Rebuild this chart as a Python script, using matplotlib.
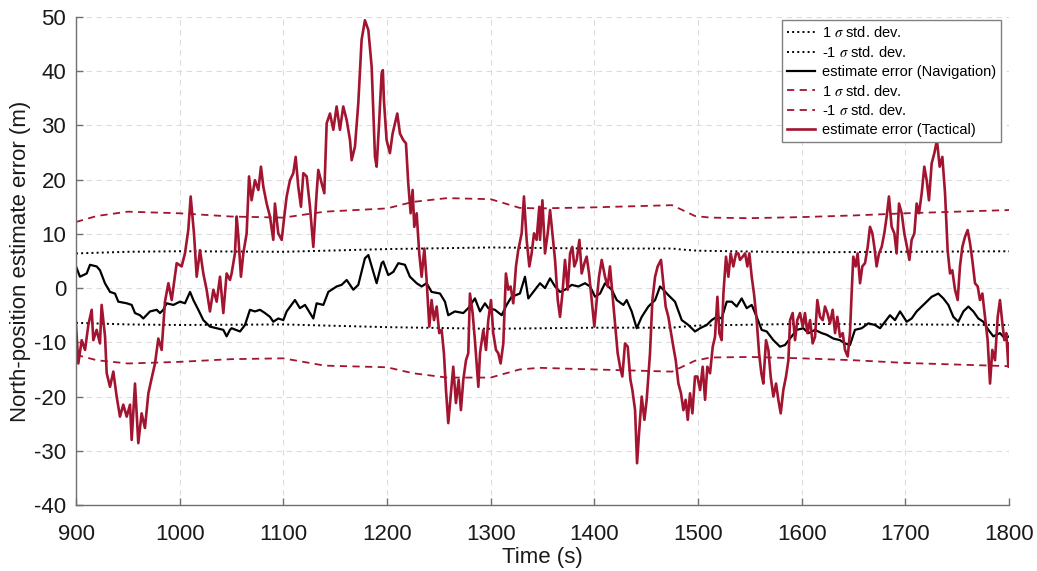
import matplotlib
matplotlib.use('Agg')
import matplotlib.pyplot as plt

plt.rcParams['font.family'] = ['Liberation Sans', 'DejaVu Sans']
plt.rcParams['mathtext.fontset'] = 'stix'
plt.rcParams['axes.unicode_minus'] = False

# navigation grade IMU: estimate error (m)
nav_t = [900, 903.8, 910.3, 913.5, 919.9, 923.1, 927.9, 932.8, 937.6, 940.8,
         948.9, 953.7, 956.9, 961.7, 964.9, 971.4, 977.8, 981.0, 984.2, 987.4,
         993.9, 1000.3, 1005.1, 1010.0, 1013.2, 1018.0, 1022.8, 1029.2, 1035.7, 1042.1,
         1045.3, 1048.5, 1050.1, 1058.2, 1063.0, 1067.8, 1072.6, 1077.5, 1082.3, 1087.1,
         1090.3, 1095.1, 1100.0, 1103.2, 1111.2, 1116.0, 1120.9, 1128.9, 1132.1, 1138.6,
         1143.4, 1151.4, 1156.2, 1161.1, 1167.5, 1172.3, 1178.7, 1182.0, 1185.2, 1190.0,
         1194.8, 1196.4, 1201.2, 1206.1, 1210.9, 1217.3, 1222.1, 1228.6, 1233.4, 1238.2,
         1243.0, 1251.1, 1255.9, 1259.1, 1265.5, 1273.6, 1278.4, 1284.8, 1289.7, 1294.5,
         1297.7, 1304.1, 1310.6, 1315.4, 1320.2, 1328.2, 1333.1, 1336.3, 1342.7, 1347.6,
         1352.4, 1357.3, 1362.1, 1366.9, 1371.7, 1378.2, 1384.6, 1391.0, 1395.9, 1400.7,
         1405.5, 1410.3, 1416.8, 1421.6, 1428.0, 1431.2, 1436.0, 1440.9, 1445.7, 1452.1,
         1458.6, 1463.4, 1466.6, 1471.4, 1477.8, 1484.3, 1490.7, 1495.5, 1497.1, 1502.0,
         1508.4, 1513.2, 1518.0, 1522.8, 1527.7, 1532.5, 1537.3, 1542.1, 1547.0, 1551.8,
         1556.6, 1561.4, 1566.3, 1572.7, 1579.1, 1583.9, 1588.8, 1595.2, 1601.6, 1606.5,
         1612.9, 1619.3, 1624.1, 1630.6, 1637.0, 1641.8, 1646.6, 1651.4, 1657.9, 1664.3,
         1670.7, 1675.6, 1680.4, 1685.2, 1690.0, 1694.9, 1701.3, 1706.1, 1710.9, 1715.8,
         1720.6, 1725.4, 1731.8, 1736.7, 1741.5, 1746.3, 1751.1, 1756.0, 1760.8, 1765.6,
         1770.4, 1775.2, 1780.1, 1784.9, 1791.3, 1796.1, 1800]
nav_err = [4.0, 2.1, 2.7, 4.3, 4.0, 3.3, 0.9, -0.7, -1.0, -2.5,
           -2.8, -3.1, -4.6, -5.0, -5.6, -4.3, -4.0, -4.6, -4.0, -2.8,
           -3.1, -2.5, -2.8, -0.7, -2.2, -4.0, -5.9, -7.1, -7.4, -7.7,
           -8.9, -7.7, -7.4, -8.0, -6.8, -4.0, -4.3, -4.0, -4.6, -5.3,
           -6.2, -5.6, -5.9, -4.3, -2.2, -3.7, -3.1, -5.6, -2.8, -3.1,
           -0.7, 0.3, 0.6, 1.5, -0.3, 0.6, 5.5, 6.1, 4.0, 0.9,
           4.6, 4.9, 2.4, 3.0, 4.6, 4.3, 2.1, 0.9, 0.3, 0.9,
           -0.7, -1.0, -2.5, -5.0, -4.3, -4.6, -3.7, -1.9, -4.3, -2.8,
           -3.7, -4.0, -5.0, -3.1, -1.6, -1.0, 2.1, -1.9, -0.3, 0.9,
           0.0, 1.8, 0.3, -0.7, -0.3, 0.6, 0.3, 0.9, 0.3, -1.6,
           -1.0, 0.9, -0.3, -2.2, -3.1, -2.2, -4.3, -7.4, -5.3, -3.4,
           -2.2, 0.3, -0.3, -1.3, -2.5, -5.9, -6.8, -7.7, -8.0, -7.4,
           -6.8, -5.9, -5.3, -5.6, -2.5, -2.5, -3.4, -1.9, -3.7, -3.1,
           -5.3, -7.7, -8.0, -9.6, -10.8, -10.5, -9.3, -7.7, -7.4, -8.3,
           -7.7, -8.3, -8.6, -9.3, -9.6, -10.2, -10.5, -7.7, -7.4, -6.5,
           -6.8, -7.4, -6.2, -5.0, -5.9, -4.3, -6.2, -5.6, -4.3, -3.4,
           -2.5, -1.6, -1.0, -1.9, -3.1, -5.3, -6.2, -4.3, -3.4, -4.3,
           -5.6, -6.2, -7.7, -8.9, -8.3, -9.3, -8.9]

# navigation grade: 1 sigma bound
nav_sig_t = [900, 950, 1000, 1100, 1200, 1300, 1400, 1475, 1485, 1500, 1600, 1700, 1800]
nav_sig = [6.4, 6.7, 6.8, 6.7, 7.2, 7.5, 7.3, 7.3, 7.1, 6.9, 6.6, 6.7, 6.8]

# tactical grade IMU: estimate error (m)
tac_t = [900.0, 902.2, 905.5, 908.7, 911.9, 915.1, 916.7, 919.9, 923.1, 924.7,
         928.0, 929.6, 932.8, 936.0, 939.2, 942.4, 945.6, 948.9, 952.1, 953.7,
         956.9, 960.1, 963.3, 966.5, 969.8, 973.0, 976.2, 979.4, 982.6, 985.8,
         989.1, 992.3, 997.1, 1001.9, 1005.1, 1008.3, 1010.6, 1013.8, 1016.4, 1019.6,
         1022.8, 1026.0, 1029.2, 1032.5, 1035.7, 1038.9, 1042.1, 1045.3, 1048.5, 1050.1,
         1053.3, 1055.0, 1056.6, 1059.1, 1061.4, 1064.6, 1066.9, 1069.4, 1072.6, 1075.9,
         1078.4, 1080.7, 1083.9, 1087.1, 1090.3, 1091.9, 1095.1, 1098.4, 1100.9, 1103.2,
         1106.4, 1109.6, 1111.9, 1114.4, 1117.0, 1119.3, 1122.5, 1125.7, 1128.9, 1132.1,
         1133.7, 1137.0, 1139.5, 1141.8, 1145.0, 1148.2, 1151.4, 1154.6, 1157.8, 1161.1,
         1164.3, 1165.9, 1169.1, 1172.3, 1175.5, 1178.7, 1182.0, 1185.2, 1188.4, 1190.0,
         1192.2, 1194.8, 1196.0, 1197.0, 1199.6, 1202.8, 1205.4, 1207.7, 1209.9, 1212.5,
         1215.7, 1218.3, 1220.5, 1222.8, 1224.7, 1226.3, 1228.6, 1231.1, 1233.4, 1236.0,
         1238.2, 1240.8, 1243.0, 1245.3, 1247.9, 1250.4, 1252.7, 1254.9, 1256.9, 1259.1,
         1261.4, 1263.9, 1266.5, 1269.1, 1271.3, 1273.6, 1276.2, 1278.4, 1280.0, 1282.6,
         1284.8, 1288.1, 1289.7, 1292.9, 1295.5, 1297.7, 1300.3, 1302.5, 1305.1, 1307.3,
         1309.6, 1312.2, 1314.7, 1317.0, 1319.2, 1321.8, 1324.4, 1326.6, 1329.9, 1332.1,
         1334.7, 1337.3, 1339.5, 1341.8, 1344.3, 1346.9, 1347.6, 1349.9, 1352.4, 1355.0,
         1357.3, 1359.5, 1362.1, 1364.7, 1366.9, 1369.2, 1371.7, 1374.3, 1376.6, 1378.8,
         1380.7, 1383.0, 1385.6, 1387.8, 1390.4, 1392.6, 1394.9, 1397.5, 1400.0, 1402.3,
         1404.5, 1407.1, 1410.3, 1412.9, 1415.1, 1417.4, 1420.0, 1422.5, 1424.8, 1427.0,
         1429.6, 1432.2, 1434.8, 1436.7, 1439.3, 1441.2, 1443.1, 1445.7, 1448.3, 1450.5,
         1453.7, 1456.0, 1458.6, 1461.1, 1464.3, 1466.6, 1468.8, 1471.4, 1474.0, 1476.2,
         1478.5, 1481.1, 1483.6, 1485.9, 1488.1, 1490.1, 1492.3, 1494.6, 1497.1, 1499.4,
         1502.0, 1504.5, 1506.8, 1509.0, 1511.6, 1514.2, 1516.4, 1518.7, 1520.6, 1522.8,
         1524.5, 1527.0, 1529.3, 1531.5, 1534.1, 1536.7, 1538.9, 1540.5, 1543.1, 1545.4,
         1547.6, 1549.5, 1551.8, 1554.0, 1556.6, 1558.9, 1561.1, 1563.0, 1565.6, 1567.9,
         1570.1, 1572.7, 1575.3, 1577.5, 1579.8, 1582.3, 1584.9, 1587.2, 1588.8, 1591.3,
         1593.6, 1595.8, 1598.4, 1601.0, 1603.2, 1605.5, 1608.1, 1610.6, 1612.9, 1615.1,
         1617.7, 1620.3, 1622.5, 1624.8, 1627.3, 1629.9, 1632.2, 1634.4, 1637.0, 1639.6,
         1641.8, 1644.4, 1646.6, 1648.2, 1649.8, 1652.1, 1654.0, 1656.3, 1658.5, 1661.1,
         1663.7, 1665.9, 1668.2, 1670.1, 1672.3, 1674.6, 1677.2, 1679.7, 1682.0, 1684.2,
         1686.8, 1689.4, 1691.6, 1693.9, 1696.5, 1699.0, 1701.6, 1703.9, 1706.1, 1708.7,
         1710.9, 1713.2, 1715.8, 1718.3, 1720.6, 1722.8, 1725.4, 1728.0, 1730.5, 1733.1,
         1735.7, 1738.3, 1740.8, 1743.1, 1745.3, 1747.9, 1750.5, 1752.7, 1755.0, 1757.6,
         1760.1, 1762.4, 1764.6, 1767.2, 1769.8, 1772.0, 1774.3, 1776.9, 1779.4, 1781.7,
         1783.9, 1786.5, 1789.1, 1791.3, 1793.6, 1795.5, 1797.4, 1799.4, 1800.0]
tac_err = [-6.8, -13.9, -9.6, -11.4, -6.8, -4.0, -9.6, -7.7, -10.2, -3.1,
           -8.9, -15.7, -18.2, -15.4, -20.0, -23.7, -21.5, -23.7, -21.5, -28.0,
           -17.6, -28.6, -23.1, -25.8, -19.4, -16.6, -13.9, -9.3, -11.4, -2.5,
           0.9, -2.2, 4.6, 4.0, 6.4, 10.7, 16.9, 10.1, 2.1, 7.0,
           2.7, -0.3, -4.3, -0.3, -2.5, 2.1, -4.6, 2.7, 1.5, 2.7,
           6.4, 13.2, 9.5, 2.1, 6.4, 10.1, 20.6, 16.2, 19.9, 18.1,
           22.4, 18.7, 15.6, 13.2, 8.9, 15.6, 10.1, 8.9, 13.2, 16.9,
           19.9, 21.2, 24.2, 18.7, 15.0, 21.2, 20.6, 15.0, 7.6, 17.5,
           21.8, 19.3, 17.5, 30.4, 32.2, 29.2, 33.5, 29.2, 33.5, 31.0,
           27.3, 23.6, 26.1, 34.1, 45.8, 49.4, 47.6, 40.8, 24.2, 22.4,
           29.8, 39.6, 40.2, 34.7, 27.3, 24.9, 28.5, 30.4, 32.2, 28.5,
           27.3, 26.7, 19.3, 13.8, 18.1, 11.3, 13.8, 6.4, 2.1, 7.3,
           1.5, -7.1, -2.2, -5.9, -3.4, -8.3, -7.7, -12.0, -18.8, -24.9,
           -20.0, -14.5, -21.2, -16.9, -22.5, -16.9, -13.3, -12.0, -1.0, -4.6,
           -9.6, -18.2, -12.0, -7.7, -11.4, -5.9, -2.2, -8.3, -11.4, -12.0,
           -13.9, -10.2, 2.7, -0.3, 0.3, -2.8, 4.0, 7.0, 10.1, 16.9,
           8.9, 4.0, 6.4, 10.1, 8.9, 15.0, 8.9, 16.2, 6.4, 10.1,
           14.4, 10.1, 5.2, -2.2, -5.3, -1.0, 5.2, -0.3, 6.4, 7.6,
           4.0, 5.2, 8.9, 2.7, 4.6, 5.8, 2.7, -2.2, -7.1, -2.2,
           2.1, 5.2, 2.1, 0.3, 4.0, -1.0, -6.5, -12.0, -14.5, -16.3,
           -10.2, -10.8, -16.9, -18.8, -22.5, -32.3, -26.8, -20.0, -24.3, -20.6,
           -12.0, -2.2, 2.1, 4.0, 5.2, 0.9, -3.4, -5.3, -8.3, -10.8,
           -13.3, -17.6, -19.4, -22.5, -20.6, -24.3, -19.4, -23.1, -16.3, -16.3,
           -18.8, -14.5, -20.6, -14.5, -15.7, -10.8, -9.0, -1.6, -8.3, -9.6,
           -1.0, 5.8, 2.1, 6.4, 4.0, 6.4, 6.4, 5.2, 5.8, 6.4,
           4.0, 6.4, 2.1, -1.0, -5.9, -12.0, -15.7, -17.6, -9.6, -11.4,
           -16.3, -20.0, -17.6, -20.6, -23.1, -18.8, -16.3, -13.3, -5.9, -4.6,
           -9.6, -5.9, -4.6, -7.1, -4.6, -8.3, -5.9, -10.2, -9.0, -2.2,
           -5.3, -5.9, -3.4, -4.6, -6.5, -4.0, -8.3, -5.3, -9.0, -8.3,
           -11.4, -12.6, -8.3, -1.0, 5.8, 4.0, 6.4, 0.9, 4.0, 4.6,
           7.6, 11.3, 10.1, 7.6, 4.0, 6.4, 7.6, 10.1, 13.2, 16.9,
           11.3, 10.1, 6.4, 15.6, 13.8, 10.1, 7.6, 5.2, 8.9, 10.1,
           15.6, 13.8, 17.5, 22.4, 19.9, 16.2, 23.0, 24.9, 27.3, 22.4,
           24.2, 17.5, 7.0, 2.7, 3.3, -0.3, -2.2, 4.0, 7.6, 9.5,
           10.7, 8.3, 5.2, 0.9, 0.3, -2.2, -1.0, -5.3, -9.6, -17.6,
           -11.4, -13.3, -5.3, -2.2, -6.5, -9.6, -8.3, -14.5, -10.2]

# tactical grade: +/- 1 sigma bounds
tac_sig_t = [900, 920, 950, 1000, 1050, 1100, 1140, 1200, 1225, 1258, 1300,
             1328, 1347, 1400, 1475, 1497, 1512, 1550, 1600, 1650, 1700, 1800]
tac_sig_hi = [12.2, 13.3, 14.1, 13.8, 13.2, 13.0, 14.1, 14.7, 15.9, 16.6, 16.4,
              14.8, 14.7, 14.9, 15.3, 13.3, 13.0, 12.9, 13.1, 13.4, 13.8, 14.4]
tac_sig_lo = [-12.3, -13.3, -13.9, -13.6, -13.1, -12.95, -14.3, -14.6, -15.7, -16.5, -16.5,
              -15.0, -14.7, -15.0, -15.4, -13.4, -12.8, -12.7, -12.95, -13.3, -13.8, -14.4]

red = '#A2142F'

fig = plt.figure(figsize=(10.37, 5.71), dpi=100)
ax = fig.add_axes([0.0733, 0.1156, 0.8997, 0.8546])

ax.plot(nav_sig_t, nav_sig, ':', color='black', lw=1.4, label=r'1 $\sigma$ std. dev.')
ax.plot(nav_sig_t, [-v for v in nav_sig], ':', color='black', lw=1.4, label=r'-1 $\sigma$ std. dev.')
ax.plot(nav_t, nav_err, '-', color='black', lw=1.6, label='estimate error (Navigation)')
ax.plot(tac_sig_t, tac_sig_hi, '--', color=red, lw=1.3, dashes=(4, 3), label=r'1 $\sigma$ std. dev.')
ax.plot(tac_sig_t, tac_sig_lo, '--', color=red, lw=1.3, dashes=(4, 3), label=r'-1 $\sigma$ std. dev.')
ax.plot(tac_t, tac_err, '-', color=red, lw=1.9, label='estimate error (Tactical)')

ax.set_xlim(900, 1800)
ax.set_ylim(-40, 50)
ax.set_xticks(range(900, 1801, 100))
ax.set_yticks(range(-40, 51, 10))
ax.grid(True, ls=(0, (5, 4)), color='#dcdcdc', lw=0.8)
ax.set_axisbelow(True)

for s in ['top', 'right']:
    ax.spines[s].set_visible(False)
for s in ['left', 'bottom']:
    ax.spines[s].set_color('#707070')
    ax.spines[s].set_linewidth(1.0)
ax.tick_params(direction='in', length=5, width=1.0, color='#707070',
               labelsize=16, labelcolor='#1a1a1a')
ax.tick_params(axis='y', pad=7)
ax.tick_params(axis='x', pad=14)

ax.set_xlabel('Time (s)', fontsize=16, color='#1a1a1a', labelpad=1)
ax.set_ylabel('North-position estimate error (m)', fontsize=16, color='#1a1a1a', labelpad=2)

leg = ax.legend(loc='upper right', bbox_to_anchor=(0.9914, 0.9939), borderaxespad=0,
                fontsize=10.5, fancybox=False, framealpha=1, edgecolor='#808080',
                handlelength=1.9, handletextpad=0.45, labelspacing=0.33,
                borderpad=0.35)
leg.get_frame().set_linewidth(1.0)

fig.savefig('out.png', dpi=100)
